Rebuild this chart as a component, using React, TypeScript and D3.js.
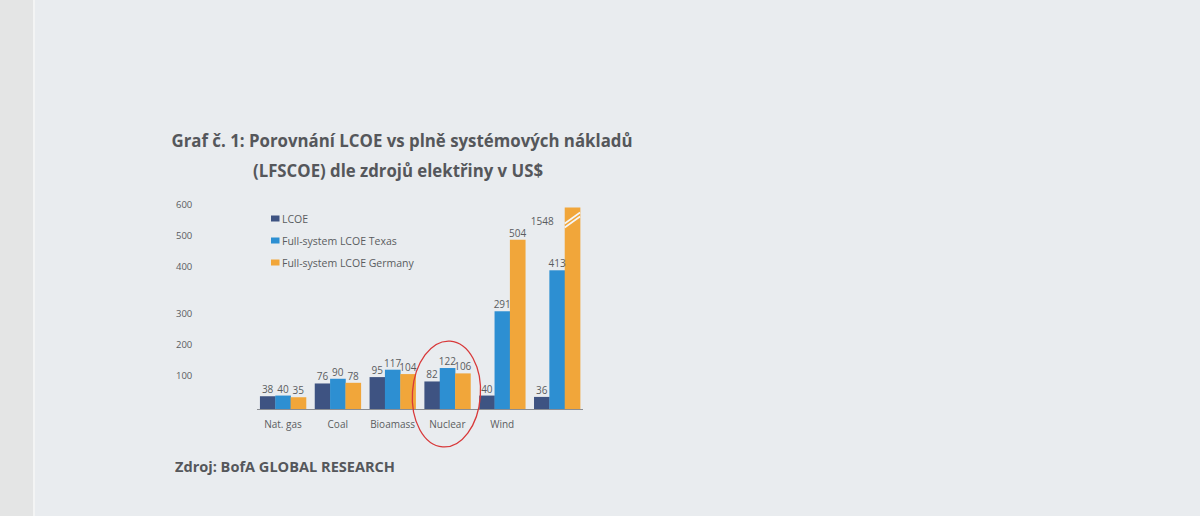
import React, { useEffect } from 'react';
import * as d3 from 'd3';

const categories = ['Nat. gas', 'Coal', 'Bioamass', 'Nuclear', 'Wind', ''];
const seriesNames = ['LCOE', 'Full-system LCOE Texas', 'Full-system LCOE Germany'];
const lcoe = [38, 76, 95, 82, 40, 36];
const texas = [40, 90, 117, 122, 291, 413];
const germany = [35, 78, 104, 106, 504, 1548];
const yTicks = [100, 200, 300, 400, 500, 600];

const colors = ['#3e5382', '#2d8fd2', '#f1a63a'];
const W = 1200;
const H = 516;

export default function App() {
  useEffect(() => {
    document.body.style.margin = '0';
  }, []);

  const series = [lcoe, texas, germany];
  const yMax = 600;

  const x = d3.scaleBand<string>()
    .domain(categories)
    .range([255, 585])
    .paddingInner(0.16)
    .paddingOuter(0.09);

  const xs = d3.scaleBand<number>()
    .domain(d3.range(series.length))
    .range([0, x.bandwidth()]);

  const y = d3.scaleLinear().domain([0, yMax]).range([409, 207.5]);

  // the printed axis labels are not evenly spaced in the source
  const tickPos = d3.scaleLinear().domain([100, 300, 400, 600]).range([375, 313, 266, 204]);

  const legendY = d3.scaleLinear().domain([0, 1]).range([218.5, 240.5]);

  const font = '"Open Sans", "Noto Sans", sans-serif';
  const gray = '#5a5c60';

  const bars: React.ReactNode[] = [];
  const labels: React.ReactNode[] = [];
  categories.forEach((c, ci) => {
    series.forEach((s, si) => {
      const v = s[ci];
      const clipped = v > yMax;
      const bx = (x(c) as number) + (xs(si) as number);
      const top = y(Math.min(v, yMax));
      bars.push(
        <rect key={`b${ci}-${si}`} x={bx} y={top} width={xs.bandwidth() + 0.3}
          height={y(0) - top} fill={colors[si]} />
      );
      if (clipped) {
        bars.push(
          <g key={`br${ci}-${si}`} stroke="#f4f6f8" strokeWidth={1.6}>
            <line x1={bx} y1={top + 16} x2={bx + xs.bandwidth()} y2={top + 5} />
            <line x1={bx} y1={top + 20} x2={bx + xs.bandwidth()} y2={top + 9} />
          </g>
        );
      }
      labels.push(
        <text key={`l${ci}-${si}`}
          x={clipped ? bx - 11 : bx + xs.bandwidth() / 2}
          y={clipped ? top + 17 : top - 3}
          textAnchor={clipped ? 'end' : 'middle'}
          fontSize={10} fill={gray} fontFamily={font}>
          {v}
        </text>
      );
    });
  });

  const nuc = (x('Nuclear') as number) + x.bandwidth() / 2;

  return (
    <svg width={W} height={H} style={{ display: 'block' }}>
      <rect width={W} height={H} fill="#e9ecef" />
      <rect width={33} height={H} fill="#e4e5e5" />
      <rect x={33} width={2} height={H} fill="#f3f4f4" />

      <g fontFamily={'"Open Sans", sans-serif'} fontWeight={700} fill="#55575b">
        <text x={402} y={147} textAnchor="middle" fontSize={17}
          textLength={461} lengthAdjust="spacingAndGlyphs">
          Graf č. 1: Porovnání LCOE vs plně systémových nákladů
        </text>
        <text x={398} y={177} textAnchor="middle" fontSize={17}
          textLength={290} lengthAdjust="spacingAndGlyphs">
          (LFSCOE) dle zdrojů elektřiny v US$
        </text>
        <text x={175} y={472} fontSize={14.5}
          textLength={220} lengthAdjust="spacingAndGlyphs">
          Zdroj: BofA GLOBAL RESEARCH
        </text>
      </g>

      <g fontFamily={font} fontSize={9.5} fill={gray}>
        {yTicks.map(t => (
          <text key={t} x={176} y={tickPos(t) + 3.5}>{t}</text>
        ))}
      </g>

      <g fontFamily={font} fontSize={10.5} fill={gray}>
        {seriesNames.map((n, i) => (
          <g key={n}>
            <rect x={271} y={legendY(i) - 3} width={8.5} height={6} fill={colors[i]} />
            <text x={282} y={legendY(i) + 4}>{n}</text>
          </g>
        ))}
      </g>

      {bars}
      <line x1={257} x2={583} y1={y(0) + 0.5} y2={y(0) + 0.5} stroke="#8a8d92" strokeWidth={1.2} />
      {labels}

      <g fontFamily={font} fontSize={10} fill={gray}>
        {categories.map(c => (
          <text key={c} x={(x(c) as number) + x.bandwidth() / 2} y={428} textAnchor="middle">{c}</text>
        ))}
      </g>

      <ellipse cx={nuc - 1} cy={y(0) - 15} rx={34} ry={53}
        transform={`rotate(4 ${nuc - 1} ${y(0) - 15})`}
        fill="none" stroke="#d8393a" strokeWidth={1.3} />
    </svg>
  );
}
